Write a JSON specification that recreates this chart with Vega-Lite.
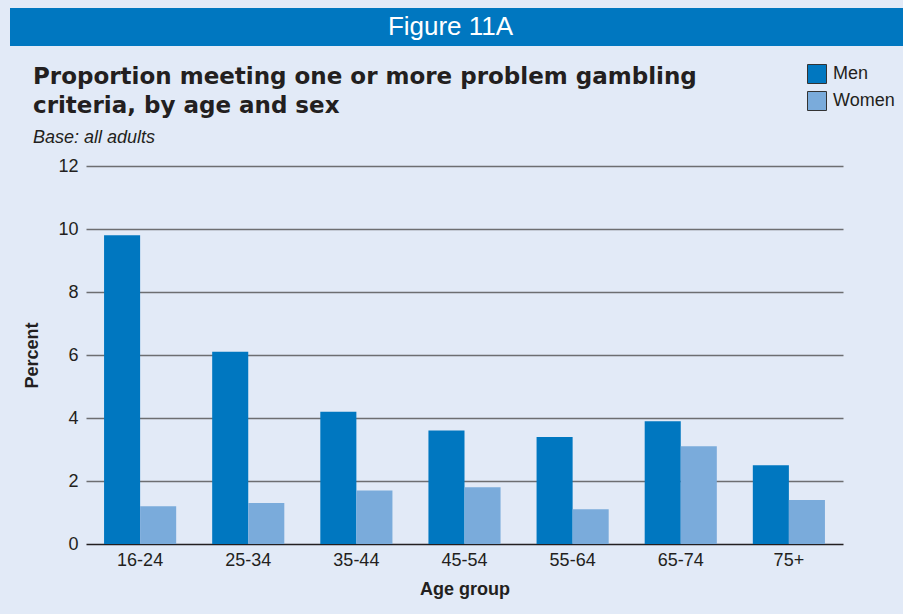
{
  "$schema": "https://vega.github.io/schema/vega-lite/v6.json",
  "background": "#e2eaf7",
  "padding": {"left": 10, "top": 8, "right": -16, "bottom": 16},
  "spacing": 20,
  "center": true,
  "config": {
    "font": "Liberation Sans",
    "view": {"stroke": null},
    "legend": {"padding": 0}
  },
  "vconcat": [
    {
      "width": 909,
      "height": 38,
      "view": {"fill": "#0077c0", "stroke": null},
      "data": {"values": [{"label": "Figure 11A"}]},
      "mark": {"type": "text", "color": "#ffffff", "font": "Liberation Sans", "fontSize": 26, "baseline": "middle", "align": "center", "dx": -14},
      "encoding": {"text": {"field": "label", "type": "nominal"}}
    },
    {
      "width": 757,
      "height": 378,
      "title": {
        "text": ["Proportion meeting one or more problem gambling", "criteria, by age and sex"],
        "subtitle": "Base: all adults",
        "anchor": "start",
        "frame": "group",
        "dx": -53,
        "font": "DejaVu Sans",
        "fontSize": 23,
        "fontWeight": "bold",
        "color": "#231f20",
        "lineHeight": 29,
        "subtitleFont": "Liberation Sans",
        "subtitleFontStyle": "italic",
        "subtitleFontSize": 18,
        "subtitleColor": "#231f20",
        "subtitlePadding": 11,
        "offset": 10
      },
      "data": {
        "values": [
          {"age": "16-24", "sex": "Men", "value": 9.8},
          {"age": "16-24", "sex": "Women", "value": 1.2},
          {"age": "25-34", "sex": "Men", "value": 6.1},
          {"age": "25-34", "sex": "Women", "value": 1.3},
          {"age": "35-44", "sex": "Men", "value": 4.2},
          {"age": "35-44", "sex": "Women", "value": 1.7},
          {"age": "45-54", "sex": "Men", "value": 3.6},
          {"age": "45-54", "sex": "Women", "value": 1.8},
          {"age": "55-64", "sex": "Men", "value": 3.4},
          {"age": "55-64", "sex": "Women", "value": 1.1},
          {"age": "65-74", "sex": "Men", "value": 3.9},
          {"age": "65-74", "sex": "Women", "value": 3.1},
          {"age": "75+", "sex": "Men", "value": 2.5},
          {"age": "75+", "sex": "Women", "value": 1.4}
        ]
      },
      "mark": {"type": "bar"},
      "encoding": {
        "x": {
          "field": "age",
          "type": "nominal",
          "sort": ["16-24", "25-34", "35-44", "45-54", "55-64", "65-74", "75+"],
          "scale": {"paddingInner": 0.333, "paddingOuter": 0.167},
          "axis": {
            "title": "Age group",
            "labelAngle": 0,
            "labelFont": "Liberation Sans",
            "labelFontSize": 18,
            "labelColor": "#231f20",
            "labelPadding": 7,
            "ticks": false,
            "domain": false,
            "titleFont": "Liberation Sans",
            "titleFontSize": 18,
            "titleFontWeight": "bold",
            "titleColor": "#231f20",
            "titlePadding": 11
          }
        },
        "xOffset": {
          "field": "sex",
          "type": "nominal",
          "scale": {"paddingInner": 0, "paddingOuter": 0}
        },
        "y": {
          "field": "value",
          "type": "quantitative",
          "scale": {"domain": [0, 12], "nice": false},
          "axis": {
            "title": "Percent",
            "values": [0, 2, 4, 6, 8, 10, 12],
            "grid": true,
            "gridColor": {"condition": {"test": "datum.value === 0", "value": "#231f20"}, "value": "#6d6e71"},
            "gridWidth": 1.5,
            "gridOpacity": 1,
            "domain": false,
            "ticks": false,
            "labelFont": "Liberation Sans",
            "labelFontSize": 18,
            "labelColor": "#231f20",
            "labelPadding": 8,
            "titleFont": "Liberation Sans",
            "titleFontSize": 18,
            "titleFontWeight": "bold",
            "titleColor": "#231f20",
            "titlePadding": 16
          }
        },
        "color": {
          "field": "sex",
          "type": "nominal",
          "scale": {"domain": ["Men", "Women"], "range": ["#0077c0", "#7aabdb"]},
          "legend": {
            "title": null,
            "orient": "none",
            "legendX": 797,
            "legendY": 56,
            "symbolType": "square",
            "symbolSize": 361,
            "symbolStrokeColor": "#333333",
            "symbolStrokeWidth": 1,
            "symbolOpacity": 1,
            "labelFont": "Liberation Sans",
            "labelFontSize": 18,
            "labelColor": "#231f20",
            "labelOffset": 6,
            "rowPadding": 3
          }
        }
      }
    }
  ]
}
